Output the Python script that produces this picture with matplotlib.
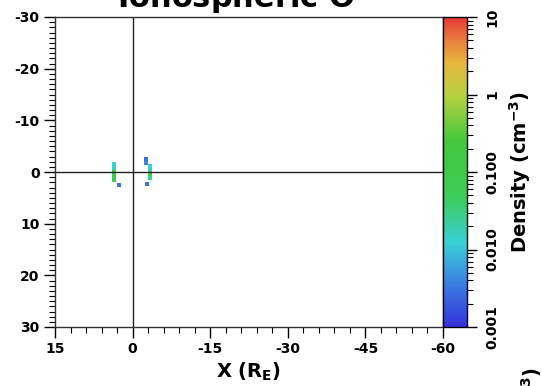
import numpy as np
import matplotlib
matplotlib.use("Agg")
import matplotlib.pyplot as plt
from matplotlib.colors import LinearSegmentedColormap, LogNorm
from matplotlib import ticker

plt.rcParams['font.family'] = ['DejaVu Sans']
plt.rcParams['font.weight'] = 'bold'
plt.rcParams['mathtext.default'] = 'bf'

# ---- data ----
title = "Ionospheric O$^{+}$"
x_limits = [15, -60]
y_limits = [30, -30]
x_ticks = [15, 0, -15, -30, -45, -60]
y_ticks = [-30, -20, -10, 0, 10, 20, 30]
cbar_ticks = [0.001, 0.01, 0.1, 1, 10]
cbar_ticklabels = ["0.001", "0.010", "0.100", "1", "10"]

# grid cells (centre x, centre y, density cm^-3)
cell_x = [3.6, 3.6, 3.6, 3.6, 3.6, 2.6,
          -2.6, -2.6, -3.4, -3.4, -3.4, -3.4, -2.8]
cell_y = [-1.6, -0.8, 0.0, 0.8, 1.6, 2.5,
          -2.5, -1.7, -1.2, -0.4, 0.4, 1.2, 2.3]
cell_density = [0.012, 0.015, 0.05, 0.08, 0.06, 0.003,
                0.003, 0.004, 0.012, 0.02, 0.08, 0.02, 0.003]

cell_size = 0.8

cmap_positions = [0.0, 0.12, 0.27, 0.42, 0.6, 0.75, 0.85, 0.92, 1.0]
cmap_colors = ["#3432dc", "#3a74e0", "#38d0d8", "#3ccc58", "#44c83c",
               "#b8d040", "#e6b83e", "#e8843c", "#e63a36"]
cmap = LinearSegmentedColormap.from_list(
    "dens", list(zip(cmap_positions, cmap_colors)))
norm = LogNorm(vmin=0.001, vmax=10)

W, H = 542, 386
fig = plt.figure(figsize=(W/100, H/100), dpi=100)
ax = fig.add_axes([55/W, 1-327/H, (443-55)/W, (327-17)/H])
cax = fig.add_axes([443/W, 1-327/H, 24/W, (327-17)/H])

# draw cells
for cx, cy, d in zip(cell_x, cell_y, cell_density):
    ax.add_patch(plt.Rectangle((cx - cell_size/2, cy - cell_size/2),
                               cell_size, cell_size,
                               facecolor=cmap(norm(d)), edgecolor='none'))

ax.axvline(0, color='#222222', lw=1.0)
ax.axhline(0, color='#222222', lw=1.0)
ax.set_xlim(x_limits)
ax.set_ylim(y_limits)
ax.set_xticks(x_ticks)
ax.set_yticks(y_ticks)
fmt = ticker.FuncFormatter(lambda v, p: ("-" if v < 0 else "") + "%d" % abs(v))
ax.xaxis.set_major_formatter(fmt)
ax.yaxis.set_major_formatter(fmt)
ax.xaxis.set_minor_locator(ticker.MultipleLocator(3))
ax.yaxis.set_minor_locator(ticker.MultipleLocator(1))
ax.tick_params(which='major', direction='out', length=8, width=1.0,
               labelsize=10, pad=3)
ax.tick_params(which='minor', direction='out', length=4, width=0.8)
for lab in ax.get_xticklabels() + ax.get_yticklabels():
    lab.set_fontweight('bold')
for s in ax.spines.values():
    s.set_linewidth(1.0)
    s.set_color('#333333')
ax.set_xlabel("X (R$_\\mathbf{E}$)", fontsize=14, fontweight='bold', labelpad=3)

# colorbar
sm = matplotlib.cm.ScalarMappable(norm=norm, cmap=cmap)
cb = fig.colorbar(sm, cax=cax)
cb.set_ticks(cbar_ticks)
cb.set_ticklabels(cbar_ticklabels)
cb.outline.set_linewidth(1.0)
cax.tick_params(which='major', direction='out', length=7, width=1.0,
                labelsize=10, pad=6)
cax.tick_params(which='minor', direction='out', length=4, width=0.8)
for lab in cax.get_yticklabels():
    lab.set_rotation(90)
    lab.set_va('center')
    lab.set_fontweight('bold')
cb.set_label("Density (cm$^{\\mathbf{-3}}$)", fontsize=14, fontweight='bold',
             labelpad=6)

fig.text(245/W, 1 - 8/H, title, ha='center', va='baseline',
         fontsize=22, fontweight='bold')
fig.text(532/W, 1 - 367/H, "Density (cm$^{-3}$)", rotation=90,
         ha='center', va='top', fontsize=14, fontweight='bold')

fig.savefig("out.png", dpi=100)
